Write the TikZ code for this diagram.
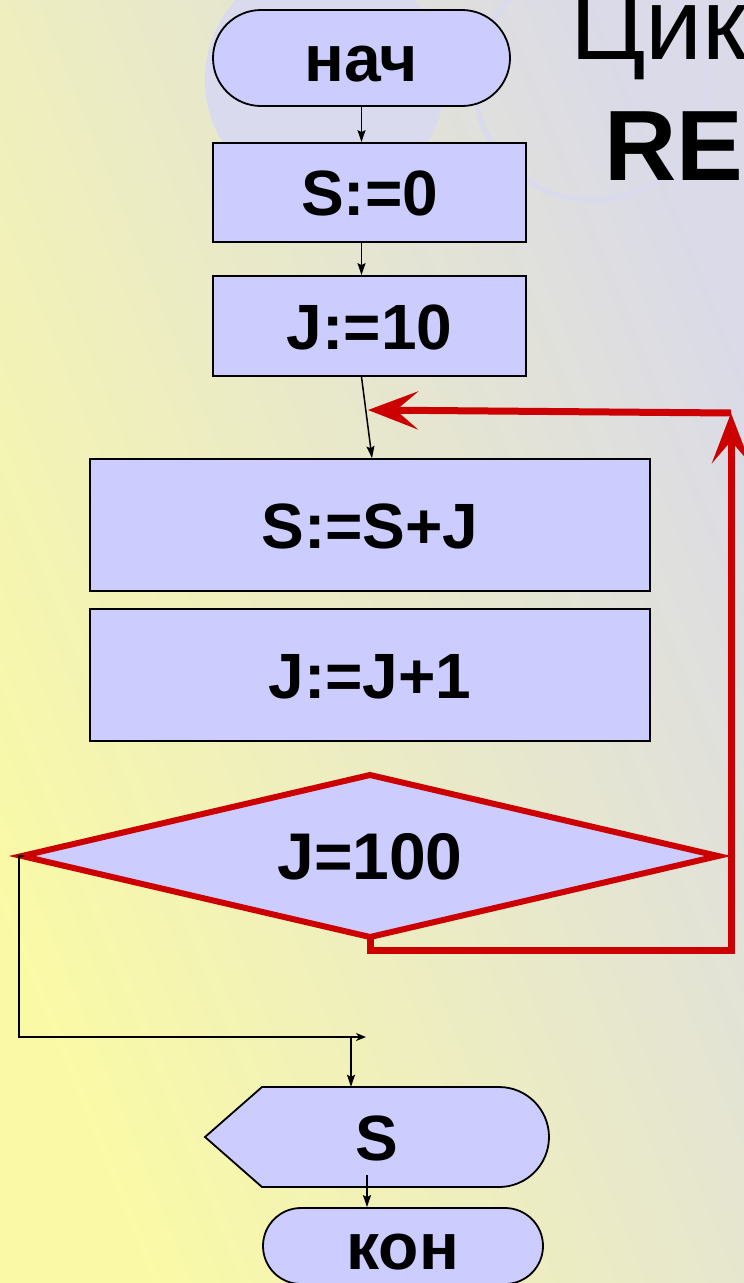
\documentclass[tikz,border=0pt]{standalone}
\usepackage{fontspec}
\setmainfont{Liberation Sans}
\usetikzlibrary{arrows.meta}
\definecolor{nodefill}{RGB}{204,204,255}
\definecolor{loopred}{RGB}{204,0,0}
\definecolor{bgyellow}{RGB}{250,250,166}
\definecolor{bggray}{RGB}{218,218,232}
\definecolor{deco}{RGB}{218,218,238}
\begin{document}
\begin{tikzpicture}[x=1pt,y=-1pt,
  txt/.style={font=\bfseries\fontsize{64}{70}\selectfont, text height=46pt, text depth=0pt, inner sep=0pt},
  txtbig/.style={font=\bfseries\fontsize{66}{72}\selectfont, text height=47pt, text depth=0pt, inner sep=0pt},
  blk/.style={txt, draw=black, line width=1.8pt, fill=nodefill},
  term/.style={txtbig, draw=black, line width=1.8pt, fill=nodefill, rounded corners=#1},
  flow/.style={draw=black, line width=1.5pt, -{Stealth[length=12pt,width=8pt,inset=2pt]}},
  back/.style={draw=loopred, line width=7pt},
  backarrow/.style={back, -{Stealth[length=50pt,width=38pt,inset=22pt]}}
]
\useasboundingbox (0,0) rectangle (744,1283);
\clip (0,0) rectangle (744,1283);
\shade[left color=bgyellow, right color=bggray, shading angle=112] (0,0) rectangle (744,1283);
\fill[deco] (325,80) circle[radius=120];
\draw[deco, line width=5pt] (592,83) circle[radius=117];
\node[anchor=base west, font=\fontsize{102}{110}\selectfont, inner sep=0pt] (t1) at (570,59) {Цикл};
\node[anchor=base west, font=\bfseries\fontsize{100}{110}\selectfont, inner sep=0pt] (t2) at (604,180) {REPEAT};

\node[term=48pt, minimum width=297pt, minimum height=96pt] (nach) at (361.5,58) {нач};
\node[blk, minimum width=313pt, minimum height=99pt] (s0) at (369.5,192.5) {S:=0};
\node[blk, minimum width=313pt, minimum height=100pt] (j10) at (369.5,326) {J:=10};
\node[blk, minimum width=560pt, minimum height=132pt] (ssj) at (370,525) {S:=S+J};
\node[blk, minimum width=560pt, minimum height=132pt] (jj1) at (370,675) {J:=J+1};

\filldraw[draw=loopred, line width=6pt, fill=nodefill] (22,856) -- (370,775) -- (718,856) -- (370,937) -- cycle;
\node[txtbig, minimum width=696pt, minimum height=162pt] (dia) at (370,856) {J=100};

\draw[black, line width=1.8pt, fill=nodefill] (205,1137) -- (262,1087) -- (499,1087)
  .. controls (526.6,1087) and (549,1109.4) .. (549,1137)
  .. controls (549,1164.6) and (526.6,1187) .. (499,1187) -- (262,1187) -- cycle;
\node[txt, minimum width=344pt, minimum height=100pt] (outS) at (377,1137) {S};
\node[term=38pt, minimum width=280pt, minimum height=76pt] (kon) at (403,1246) {кон};

\draw[flow] (nach.south) -- (nach.south |- s0.north);
\draw[flow] (nach.south |- s0.south) -- (nach.south |- j10.north);
\draw[flow] (nach.south |- j10.south) -- ([xshift=2pt]ssj.north);

\coordinate (rb) at (731,950);
\coordinate (rt) at (731,413);
\coordinate (ret) at (368,410);
\draw[backarrow] (dia.south) |- (rb) -- (rt);
\draw[backarrow] (rt) -- (ret);

\coordinate (e0) at (24,856);
\coordinate (e1) at (19,1037);
\coordinate (e2) at (366,1037);
\coordinate (j1) at (351,1037);
\draw[draw=black, line width=1.5pt, -{Stealth[length=10pt,width=8pt,inset=3pt]}] (e0) -| (e1) -- (e2);
\draw[flow] (j1) -- (j1 |- outS.north);
\coordinate (s2) at (367,1175);
\draw[flow] (s2) -- (s2 |- kon.north);
\end{tikzpicture}
\end{document}
